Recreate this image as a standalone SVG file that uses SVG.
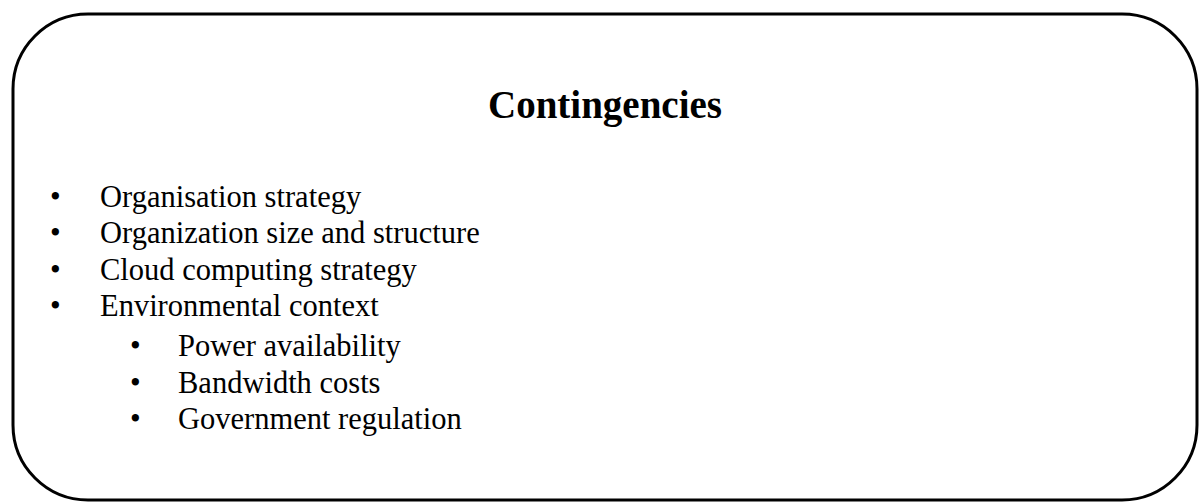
<svg xmlns="http://www.w3.org/2000/svg" width="1200" height="503" viewBox="0 0 1200 503">
  <style>
    .frame { fill: #ffffff; stroke: #000000; stroke-width: 3; }
    .title { font-family: "Liberation Serif", "Times New Roman", serif; font-size: 39px; font-weight: bold; fill: #000000; }
    .item { font-family: "Liberation Serif", "Times New Roman", serif; font-size: 30.5px; fill: #000000; }
  </style>
  <rect width="1200" height="503" fill="#ffffff"/>
  <g id="contingencies">
    <rect class="frame" x="13" y="14" width="1184" height="486" rx="75" ry="75"/>
    <text class="title" x="605" y="118" text-anchor="middle">Contingencies</text>
    <g id="list">
      <text class="item" x="50" y="207">•</text>
      <text class="item" x="100" y="207">Organisation strategy</text>
      <text class="item" x="50" y="243">•</text>
      <text class="item" x="100" y="243">Organization size and structure</text>
      <text class="item" x="50" y="280">•</text>
      <text class="item" x="100" y="280">Cloud computing strategy</text>
      <text class="item" x="50" y="316">•</text>
      <text class="item" x="100" y="316">Environmental context</text>
      <text class="item" x="130" y="356">•</text>
      <text class="item" x="178" y="356">Power availability</text>
      <text class="item" x="130" y="393">•</text>
      <text class="item" x="178" y="393">Bandwidth costs</text>
      <text class="item" x="130" y="429">•</text>
      <text class="item" x="178" y="429">Government regulation</text>
    </g>
  </g>
</svg>
